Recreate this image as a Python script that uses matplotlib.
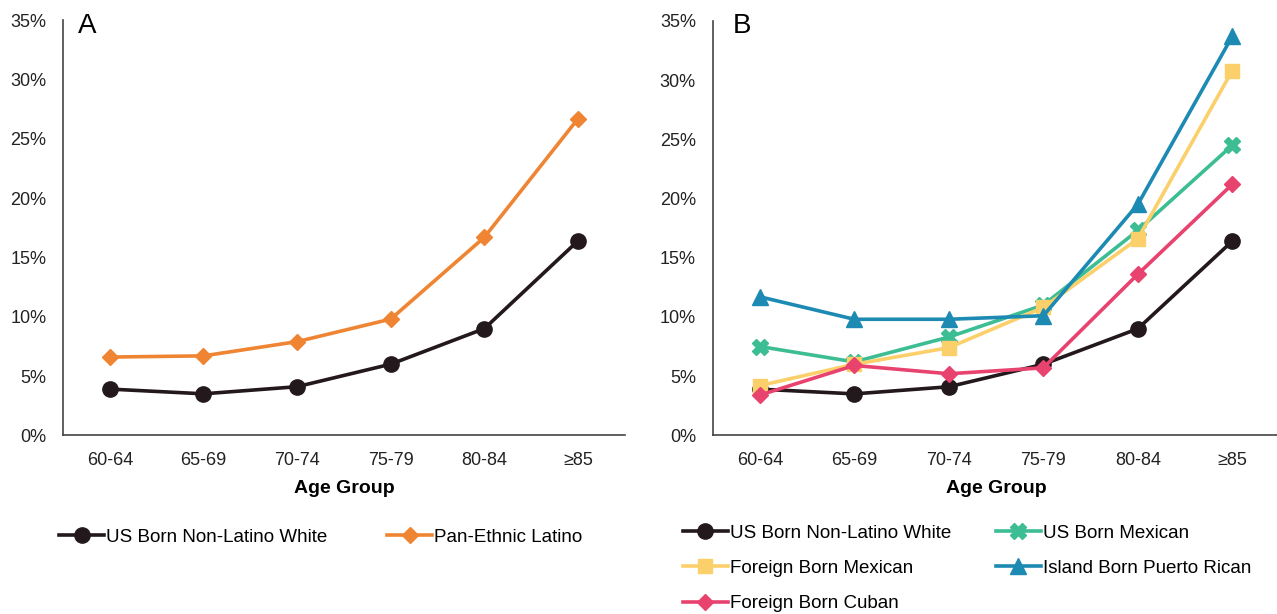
import matplotlib.pyplot as plt
from matplotlib.ticker import PercentFormatter

plt.rcParams['font.family'] = ['Liberation Sans', 'DejaVu Sans']

age_groups = ["60-64", "65-69", "70-74", "75-79", "80-84", "≥85"]

# Panel A
white = [3.9, 3.5, 4.1, 6.0, 9.0, 16.4]
latino = [6.6, 6.7, 7.9, 9.8, 16.7, 26.7]

# Panel B
us_mexican = [7.5, 6.2, 8.3, 11.0, 17.3, 24.5]
fb_mexican = [4.2, 6.0, 7.4, 10.8, 16.6, 30.8]
pr_island = [11.7, 9.8, 9.8, 10.1, 19.5, 33.7]
fb_cuban = [3.4, 5.9, 5.2, 5.7, 13.6, 21.2]

c_white = "#23181b"
c_latino = "#ef8533"
c_usmex = "#3dbd93"
c_fbmex = "#fbd06a"
c_pr = "#1d8ab3"
c_cuban = "#e8436f"

fig = plt.figure(figsize=(12.77, 6.14), dpi=100)
axA = fig.add_axes([0.0493, 0.291, 0.440, 0.676])
axB = fig.add_axes([0.558, 0.291, 0.444, 0.675])

x = range(len(age_groups))
lw = 2.6

axA.plot(x, white, color=c_white, lw=lw, marker="o", ms=11, label="US Born Non-Latino White")
axA.plot(x, latino, color=c_latino, lw=lw, marker="D", ms=8.5, label="Pan-Ethnic Latino")

axB.plot(x, white, color=c_white, lw=lw, marker="o", ms=11, label="US Born Non-Latino White")
axB.plot(x, us_mexican, color=c_usmex, lw=lw, marker="X", ms=12, label="US Born Mexican")
axB.plot(x, fb_mexican, color=c_fbmex, lw=lw, marker="s", ms=10.5, label="Foreign Born Mexican")
axB.plot(x, pr_island, color=c_pr, lw=lw, marker="^", ms=12, label="Island Born Puerto Rican")
axB.plot(x, fb_cuban, color=c_cuban, lw=lw, marker="D", ms=8.5, label="Foreign Born Cuban")

for ax, letter, lx in [(axA, "A", 0.027), (axB, "B", 0.035)]:
    ax.set_xlim(-0.5, 5.5)
    ax.set_ylim(0, 35)
    ax.set_yticks(range(0, 36, 5))
    ax.yaxis.set_major_formatter(PercentFormatter(decimals=0))
    ax.set_xticks(list(x))
    ax.set_xticklabels(age_groups)
    ax.tick_params(length=0, labelsize=13, colors="#222222")
    ax.tick_params(axis="x", pad=12)
    ax.tick_params(axis="y", pad=12)
    for s in ["top", "right"]:
        ax.spines[s].set_visible(False)
    for s in ["left", "bottom"]:
        ax.spines[s].set_color("#444444")
        ax.spines[s].set_linewidth(1.2)
    ax.set_xlabel("Age Group", fontsize=14, fontweight="bold", labelpad=8)
    ax.text(lx, 1.018, letter, transform=ax.transAxes, fontsize=20, va="top", ha="left")

axA.legend(loc="upper left", bbox_to_anchor=(-0.02, -0.207), ncol=2, frameon=False,
           fontsize=13.5, handlelength=2.4, handletextpad=0.1, columnspacing=3.2,
           borderaxespad=0)

hB, lB = axB.get_legend_handles_labels()
order = [0, 2, 4, 1, 3]
axB.legend([hB[i] for i in order], [lB[i] for i in order], loc="upper left",
           bbox_to_anchor=(-0.066, -0.197), ncol=2, frameon=False, fontsize=13.5,
           handlelength=2.4, handletextpad=0.1, columnspacing=2.4, labelspacing=0.97,
           borderaxespad=0)

fig.savefig("out.png", dpi=100)
